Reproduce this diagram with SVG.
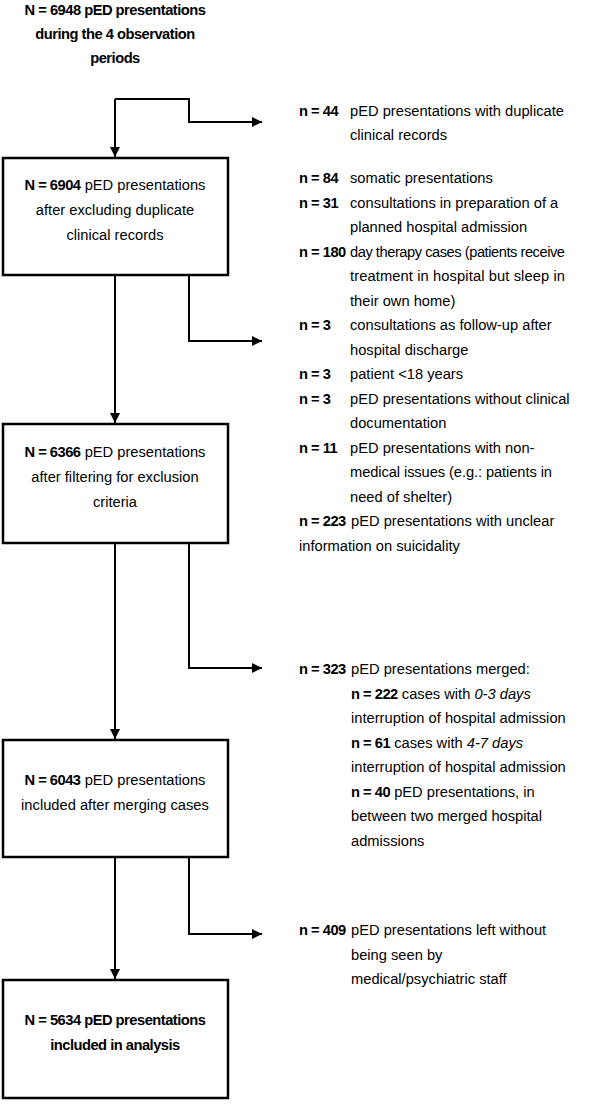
<svg xmlns="http://www.w3.org/2000/svg" width="590" height="1115" viewBox="0 0 590 1115">
<style>
text{font-family:"Liberation Sans",Arial,sans-serif;font-size:14.7px;fill:#000}
.c{text-anchor:middle}
.b{font-weight:bold;letter-spacing:-0.5px}
.i{font-style:italic}
.box{fill:#fff;stroke:#000;stroke-width:2.5}
.ln{fill:none;stroke:#000;stroke-width:2}
</style>
<defs>
<marker id="ah" markerUnits="userSpaceOnUse" markerWidth="10" markerHeight="10" refX="10" refY="5" orient="auto">
<path d="M0,0 L10,5 L0,10 z" fill="#000"/>
</marker>
</defs>
<rect width="590" height="1115" fill="#fff"/>

<g id="start">
<text class="c b" x="115" y="15">N = 6948 pED presentations</text>
<text class="c b" x="115" y="39">during the 4 observation</text>
<text class="c b" x="115" y="63">periods</text>
</g>

<g id="connectors">
<path class="ln" d="M115,99 H189 V122 H262" marker-end="url(#ah)"/>
<path class="ln" d="M115,99 V157" marker-end="url(#ah)"/>
<path class="ln" d="M115,275 V423" marker-end="url(#ah)"/>
<path class="ln" d="M189,275 V341 H262" marker-end="url(#ah)"/>
<path class="ln" d="M115,543 V739" marker-end="url(#ah)"/>
<path class="ln" d="M189,543 V668 H262" marker-end="url(#ah)"/>
<path class="ln" d="M115,857 V979" marker-end="url(#ah)"/>
<path class="ln" d="M189,857 V934 H262" marker-end="url(#ah)"/>
</g>

<g id="box1">
<rect class="box" x="3" y="158" width="225" height="117"/>
<text class="c" x="115" y="190"><tspan class="b">N = 6904</tspan> pED presentations</text>
<text class="c" x="115" y="215">after excluding duplicate</text>
<text class="c" x="115" y="240">clinical records</text>
</g>

<g id="box2">
<rect class="box" x="3" y="424" width="225" height="119"/>
<text class="c" x="115" y="457"><tspan class="b">N = 6366</tspan> pED presentations</text>
<text class="c" x="115" y="482">after filtering for exclusion</text>
<text class="c" x="115" y="507">criteria</text>
</g>

<g id="box3">
<rect class="box" x="3" y="740" width="225" height="117"/>
<text class="c" x="115" y="785"><tspan class="b">N = 6043</tspan> pED presentations</text>
<text class="c" x="115" y="810">included after merging cases</text>
</g>

<g id="box4">
<rect class="box" x="3" y="980" width="225" height="118"/>
<text class="c b" x="115" y="1025">N = 5634 pED presentations</text>
<text class="c b" x="115" y="1050">included in analysis</text>
</g>

<g id="excl1">
<text x="299" y="116"><tspan class="b">n = 44</tspan><tspan x="350">pED presentations with duplicate</tspan></text>
<text x="350" y="140">clinical records</text>
</g>

<g id="excl2">
<text x="299" y="183"><tspan class="b">n = 84</tspan><tspan x="350">somatic presentations</tspan></text>
<text x="299" y="207.5"><tspan class="b">n = 31</tspan><tspan x="350">consultations in preparation of a</tspan></text>
<text x="350" y="232">planned hospital admission</text>
<text x="299" y="256.5"><tspan class="b">n = 180</tspan><tspan x="350" textLength="215">day therapy cases (patients receive</tspan></text>
<text x="350" y="281" textLength="215">treatment in hospital but sleep in</text>
<text x="350" y="305.5">their own home)</text>
<text x="299" y="330"><tspan class="b">n = 3</tspan><tspan x="350">consultations as follow-up after</tspan></text>
<text x="350" y="354.5">hospital discharge</text>
<text x="299" y="379"><tspan class="b">n = 3</tspan><tspan x="350">patient &lt;18 years</tspan></text>
<text x="299" y="403.5"><tspan class="b">n = 3</tspan><tspan x="350">pED presentations without clinical</tspan></text>
<text x="350" y="428">documentation</text>
<text x="299" y="452.5"><tspan class="b">n = 11</tspan><tspan x="350">pED presentations with non-</tspan></text>
<text x="350" y="477" textLength="202">medical issues (e.g.: patients in</text>
<text x="350" y="501.5">need of shelter)</text>
<text x="299" y="526"><tspan class="b">n = 223</tspan><tspan x="351">pED presentations with unclear</tspan></text>
<text x="299" y="550.5">information on suicidality</text>
</g>

<g id="excl3">
<text x="299" y="674"><tspan class="b">n = 323</tspan><tspan x="351">pED presentations merged:</tspan></text>
<text x="351" y="698.5"><tspan class="b">n = 222</tspan> cases with <tspan class="i">0-3 days</tspan></text>
<text x="351" y="723">interruption of hospital admission</text>
<text x="351" y="747.5"><tspan class="b">n = 61</tspan> cases with <tspan class="i">4-7 days</tspan></text>
<text x="351" y="772">interruption of hospital admission</text>
<text x="351" y="796.5"><tspan class="b">n = 40</tspan> pED presentations, in</text>
<text x="351" y="821">between two merged hospital</text>
<text x="351" y="845.5">admissions</text>
</g>

<g id="excl4">
<text x="299" y="935"><tspan class="b">n = 409</tspan><tspan x="351">pED presentations left without</tspan></text>
<text x="351" y="959.5">being seen by</text>
<text x="351" y="984">medical/psychiatric staff</text>
</g>
</svg>
